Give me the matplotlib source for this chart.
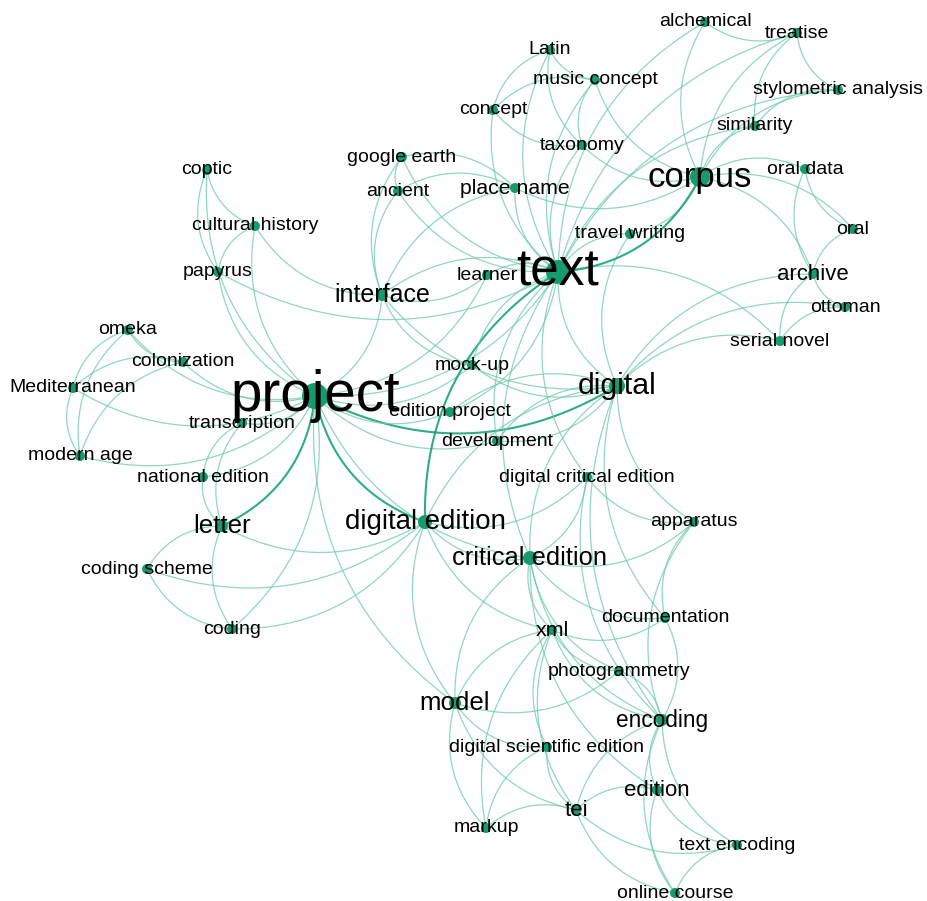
import numpy as np
import matplotlib
matplotlib.use("Agg")
import matplotlib.pyplot as plt

# ---- data -------------------------------------------------------------
labels = ["project", "text", "corpus", "digital", "digital edition", "critical edition",
          "interface", "letter", "model", "encoding", "archive", "place name", "edition",
          "tei", "xml", "alchemical", "treatise", "Latin", "music concept", "concept",
          "stylometric analysis", "similarity", "taxonomy", "google earth", "ancient",
          "coptic", "cultural history", "papyrus", "learner", "travel writing", "oral data",
          "oral", "ottoman", "serial novel", "omeka", "colonization", "Mediterranean",
          "transcription", "modern age", "national edition", "mock-up", "edition project",
          "development", "digital critical edition", "apparatus", "documentation",
          "photogrammetry", "digital scientific edition", "markup", "text encoding",
          "online course", "coding scheme", "coding"]
node_x = [315, 558, 700, 617, 425, 530, 382, 222, 455, 662, 813, 515, 657, 576, 552, 705,
          797, 550, 595, 493, 838, 755, 582, 402, 398, 207, 255, 218, 487, 630, 805, 853,
          845, 780, 128, 183, 73, 242, 80, 203, 472, 450, 497, 587, 694, 665, 619, 547,
          486, 737, 675, 147, 232]
node_y = [396, 272, 177, 386, 522, 558, 295, 526, 703, 720, 274, 188, 790, 810, 630, 22,
          33, 50, 80, 110, 90, 126, 145, 157, 191, 170, 226, 272, 275, 234, 169, 229, 307,
          341, 330, 362, 388, 423, 456, 477, 365, 412, 441, 477, 522, 618, 671, 747, 828,
          845, 893, 569, 629]
node_r = [13, 12, 10, 8, 7, 7, 6, 6, 6, 6, 5, 5, 5, 5, 5, 5, 5, 5, 5, 5, 5, 5, 5, 5, 5,
          5, 5, 5, 5, 5, 5, 5, 5, 5, 5, 5, 5, 5, 5, 5, 5, 5, 5, 5, 5, 5, 5, 5, 5, 5, 5, 5, 5]
label_pt = [40.7, 37, 25, 21.8, 19.9, 18.4, 18, 18.6, 18.6, 16.3, 15.9, 15.3, 16, 16,
            15.4, 14, 14, 14, 14, 14, 14, 14, 14, 14, 14, 14, 14, 14, 14, 14, 14, 14, 14,
            14, 14, 14, 14, 14, 14, 14, 14, 14, 14, 14, 14, 14, 14, 14, 14, 14, 14, 14, 14]

edge_src = ["alchemical", "alchemical", "alchemical", "treatise", "treatise", "treatise",
            "treatise", "stylometric analysis", "stylometric analysis", "stylometric analysis",
            "similarity", "similarity", "oral data", "oral data", "oral data", "oral",
            "oral", "archive", "archive", "archive", "archive", "ottoman", "ottoman",
            "serial novel", "serial novel", "Latin", "Latin", "Latin", "Latin",
            "music concept", "music concept", "music concept", "music concept", "concept",
            "concept", "taxonomy", "taxonomy", "place name", "place name", "place name",
            "place name", "place name", "google earth", "google earth", "google earth",
            "ancient", "ancient", "travel writing", "travel writing", "travel writing",
            "coptic", "coptic", "coptic", "cultural history", "cultural history",
            "cultural history", "papyrus", "papyrus", "omeka", "omeka", "omeka", "omeka",
            "colonization", "colonization", "colonization", "Mediterranean", "Mediterranean",
            "modern age", "transcription", "transcription", "transcription",
            "national edition", "national edition", "letter", "letter", "letter", "letter",
            "coding scheme", "coding scheme", "coding", "coding", "project", "project",
            "project", "project", "project", "project", "project", "project", "project",
            "project", "text", "text", "text", "text", "text", "text", "text", "text",
            "text", "interface", "interface", "interface", "digital", "digital", "digital",
            "digital", "digital", "digital", "digital", "digital edition", "digital edition",
            "digital edition", "digital edition", "critical edition", "critical edition",
            "critical edition", "critical edition", "critical edition", "critical edition",
            "critical edition", "critical edition", "digital critical edition",
            "digital critical edition", "apparatus", "apparatus", "xml", "xml", "xml", "xml",
            "xml", "xml", "xml", "model", "model", "model", "model", "encoding", "encoding",
            "encoding", "encoding", "encoding", "encoding", "digital scientific edition",
            "digital scientific edition", "edition", "edition", "edition", "tei", "tei",
            "tei", "text encoding", "mock-up", "edition project", "development"]
edge_dst = ["treatise", "corpus", "text", "stylometric analysis", "similarity", "corpus",
            "text", "similarity", "corpus", "text", "corpus", "text", "corpus", "oral",
            "archive", "archive", "corpus", "ottoman", "serial novel", "corpus", "digital",
            "serial novel", "digital", "digital", "text", "music concept", "concept",
            "taxonomy", "text", "concept", "taxonomy", "text", "corpus", "taxonomy", "text",
            "text", "corpus", "text", "google earth", "ancient", "interface", "corpus",
            "ancient", "interface", "text", "interface", "text", "text", "corpus", "digital",
            "cultural history", "papyrus", "project", "papyrus", "interface", "project",
            "project", "text", "colonization", "Mediterranean", "modern age", "project",
            "Mediterranean", "modern age", "project", "modern age", "project", "project",
            "project", "letter", "national edition", "letter", "project", "project",
            "coding scheme", "coding", "digital edition", "coding", "digital edition",
            "digital edition", "project", "text", "interface", "digital", "digital edition",
            "critical edition", "mock-up", "edition project", "development", "model",
            "learner", "corpus", "interface", "digital", "digital edition", "critical edition",
            "learner", "mock-up", "development", "digital critical edition", "learner",
            "mock-up", "digital", "digital edition", "critical edition", "apparatus",
            "encoding", "documentation", "edition project", "development", "critical edition",
            "xml", "model", "digital critical edition", "apparatus", "digital critical edition",
            "xml", "encoding", "documentation", "photogrammetry", "model", "edition",
            "apparatus", "encoding", "encoding", "documentation", "model", "tei",
            "documentation", "photogrammetry", "encoding", "digital scientific edition",
            "markup", "photogrammetry", "digital scientific edition", "markup", "tei",
            "edition", "tei", "online course", "text encoding", "documentation",
            "photogrammetry", "tei", "markup", "tei", "text encoding", "online course",
            "markup", "text encoding", "online course", "online course", "digital", "text",
            "digital"]
edge_w = [1] * len(edge_src)
thick_pairs = [("text", "corpus"), ("text", "digital edition"), ("project", "digital"),
               ("letter", "project"), ("project", "digital edition")]

# ---- drawing ----------------------------------------------------------
W, H = 927, 901
fig = plt.figure(figsize=(W / 100, H / 100), dpi=100)
ax = fig.add_axes([0, 0, 1, 1])
ax.set_xlim(0, W)
ax.set_ylim(H, 0)
ax.axis("off")

idx = {n: i for i, n in enumerate(labels)}
xs = np.array(node_x, float)
ys = np.array(node_y, float)

t = np.linspace(0, 1, 60)[:, None]
for s, d, w in zip(edge_src, edge_dst, edge_w):
    p0 = np.array([xs[idx[s]], ys[idx[s]]])
    p2 = np.array([xs[idx[d]], ys[idx[d]]])
    v = p2 - p0
    perp = np.array([-v[1], v[0]])
    c = (p0 + p2) / 2 + perp * 0.28
    pts = (1 - t) ** 2 * p0 + 2 * (1 - t) * t * c + t ** 2 * p2
    thick = (s, d) in thick_pairs or (d, s) in thick_pairs
    ax.plot(pts[:, 0], pts[:, 1], color="#17a574" if thick else "#6ccaa6",
            lw=1.5 if thick else 0.9, alpha=0.9 if thick else 0.75, zorder=1,
            solid_capstyle="round")

# nodes: size in points^2 from pixel radius
sizes = [(r * 72 / 100 * 2) ** 2 for r in node_r]
ax.scatter(xs, ys, s=sizes, color="#179b6e", zorder=2, linewidths=0)

for lab, x, y, fs in zip(labels, xs, ys, label_pt):
    ax.text(x, y, lab, fontsize=fs, family=["Liberation Sans", "DejaVu Sans"],
            ha="center", va="center", color="black", zorder=3)

fig.savefig("out.png", dpi=100, facecolor="white")
